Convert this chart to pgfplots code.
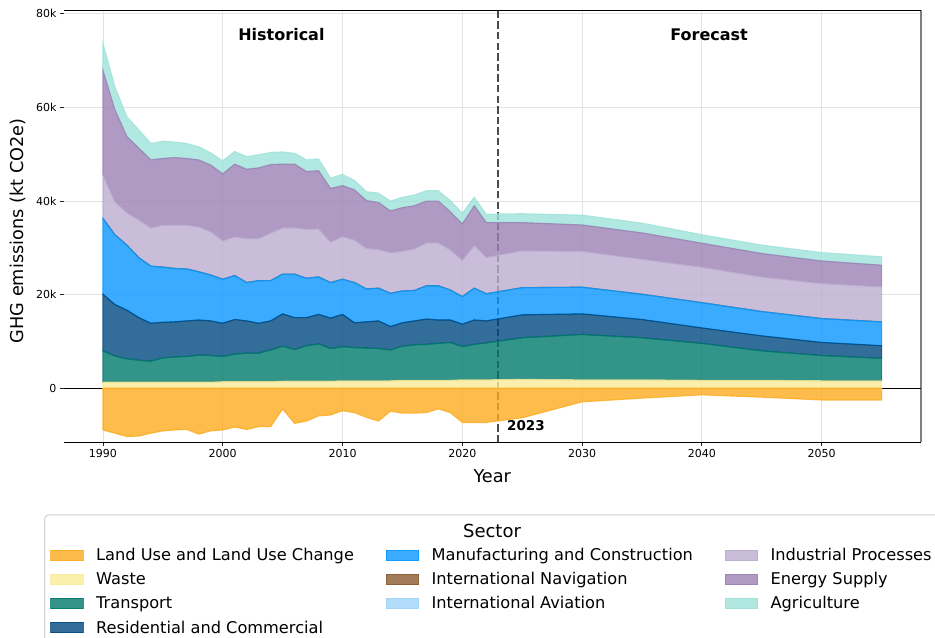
\documentclass[border=0pt]{standalone}
\usepackage{fontspec}
\setmainfont{DejaVu Sans}
\usepackage{pgfplots}
\pgfplotsset{compat=1.18}
\usepackage{pgfplotstable}

\definecolor{cLU}{RGB}{252,171,30}
\definecolor{cWaste}{RGB}{251,235,152}
\definecolor{cTr}{RGB}{0,121,109}
\definecolor{cRes}{RGB}{0,72,127}
\definecolor{cMan}{RGB}{9,150,254}
\definecolor{cNav}{RGB}{139,91,49}
\definecolor{cAv}{RGB}{160,212,251}
\definecolor{cInd}{RGB}{187,172,207}
\definecolor{cEn}{RGB}{155,129,181}
\definecolor{cAg}{RGB}{157,226,217}

% values in thousands of kt CO2e
\pgfplotstableread{
year lu waste transport resid manuf nav avia indus energy agri
1990 -8.9 1.3 6.7 12.1 16.2 0 0 9.3 22.3 5.8
1991 -9.6 1.3 5.6 11.0 14.9 0 0 7.1 19.6 4.9
1992 -10.3 1.3 5.0 10.4 13.9 0 0 6.9 16.3 4.2
1993 -10.2 1.3 4.7 9.1 12.8 0 0 8.1 15.3 3.9
1994 -9.6 1.3 4.5 8.1 12.2 0 0 8.2 14.5 3.5
1995 -9.1 1.3 5.2 7.6 11.8 0 0 9.0 14.2 3.7
1996 -8.9 1.3 5.4 7.5 11.4 0 0 9.3 14.4 3.3
1997 -8.8 1.3 5.5 7.6 11.1 0 0 9.4 14.2 3.2
1998 -9.8 1.3 5.8 7.5 10.3 0 0 9.6 14.3 2.8
1999 -9.1 1.3 5.7 7.4 9.8 0 0 9.3 14.2 2.6
2000 -8.9 1.4 5.4 7.1 9.4 0 0 8.2 14.3 2.8
2001 -8.3 1.4 5.9 7.4 9.4 0 0 8.3 15.5 2.7
2002 -8.8 1.4 6.1 6.9 8.2 0 0 9.4 14.8 2.7
2003 -8.2 1.4 6.1 6.4 9.1 0 0 9.0 15.1 2.8
2004 -8.2 1.4 6.8 6.2 8.6 0 0 10.2 14.6 2.6
2005 -4.4 1.5 7.5 6.9 8.5 0 0 9.9 13.6 2.6
2006 -7.5 1.5 6.8 6.8 9.3 0 0 9.9 13.6 2.3
2007 -7.0 1.5 7.6 6.0 8.4 0 0 10.5 12.3 2.5
2008 -5.9 1.5 8.0 6.3 8.0 0 0 10.3 12.4 2.5
2009 -5.7 1.5 7.0 6.5 7.6 0 0 8.7 11.4 2.2
2010 -4.8 1.6 7.3 6.9 7.5 0 0 9.1 10.9 2.4
2011 -5.2 1.6 7.1 5.3 8.6 0 0 9.1 10.7 2.0
2012 -6.2 1.6 7.0 5.6 7.0 0 0 8.7 10.2 1.9
2013 -7.0 1.6 6.9 5.9 7.0 0 0 8.3 10.0 2.0
2014 -4.9 1.6 6.6 5.0 7.1 0 0 8.7 8.9 2.1
2015 -5.3 1.7 7.3 5.0 6.8 0 0 8.5 9.3 2.2
2016 -5.3 1.7 7.6 5.1 6.5 0 0 8.9 9.2 2.3
2017 -5.2 1.7 7.7 5.4 7.1 0 0 9.2 8.9 2.2
2018 -4.4 1.7 7.9 5.0 7.3 0 0 9.2 8.9 2.2
2019 -5.2 1.7 8.1 4.8 6.4 0 0 8.6 8.1 2.4
2020 -7.3 1.8 7.1 4.8 5.9 0 0 7.8 7.7 2.3
2021 -7.3 1.8 7.6 5.2 6.8 0 0 9.2 8.4 1.8
2022 -7.3 1.8 7.9 4.7 5.8 0 0 7.8 7.4 1.8
2025 -6.3 1.9 8.9 4.9 5.8 0 0 7.9 6.0 1.9
2030 -2.9 1.8 9.7 4.4 5.7 0 0 7.7 5.6 2.1
2035 -2.1 1.8 9.0 3.9 5.4 0 0 7.5 5.6 2.1
2040 -1.4 1.7 7.9 3.3 5.4 0 0 7.6 5.1 1.8
2045 -1.9 1.7 6.3 3.2 5.2 0 0 7.4 5.0 1.8
2050 -2.5 1.6 5.4 2.8 5.1 0 0 7.5 4.8 1.8
2055 -2.5 1.6 4.8 2.7 5.1 0 0 7.5 4.6 1.8
}\data

\pgfplotsset{
  area/.style={fill=#1, draw=#1, fill opacity=0.8, draw opacity=0.8, line width=1.1bp, forget plot},
}

\begin{document}
\begin{tikzpicture}
\useasboundingbox (0bp,0bp) rectangle (935bp,638bp);
\clip (0bp,0bp) rectangle (935bp,638bp);
\filldraw[draw=black!18, line width=1bp, fill=white, rounded corners=4bp] (44.6bp,123bp) rectangle (939.4bp,-30bp);
\node[font=\fontsize{18bp}{21bp}\selectfont] at (492bp,107.3bp) {Sector};
\begin{axis}[
  at={(64bp,195.7bp)}, anchor=south west,
  scale only axis, width=856.5bp, height=432.3bp,
  xmin=1986.75, xmax=2058.25, ymin=-11.54, ymax=80.83,
  clip=false,
  stack plots=y,
  axis line style={draw=none},
  tick align=outside, tick pos=left,
  major tick length=4bp,
  every tick/.style={black!85, line width=0.8bp},
  xtick={1990,2000,2010,2020,2030,2040,2050},
  ytick={0,20,40,60,80},
  yticklabels={0,20k,40k,60k,80k},
  x tick label style={/pgf/number format/1000 sep={}},
  tick label style={font=\fontsize{11bp}{13bp}\selectfont},
  /pgf/number format/assume math mode=true,
  grid=major,
  grid style={black!11, line width=0.8bp},
  xlabel={Year}, ylabel={GHG emissions (kt CO2e)},
  label style={font=\fontsize{17.7bp}{21bp}\selectfont},
  xlabel style={at={(axis description cs:0.5,-0.078)}, anchor=center},
  ylabel style={at={(axis description cs:-0.0543,0.489)}, anchor=center},
  legend columns=3,
  legend cell align=left,
  legend image code/.code={\filldraw[#1, fill opacity=0.8, draw opacity=0.8, line width=0.8bp] (0bp,-5.3bp) rectangle (32.2bp,5.3bp);},
  legend style={
    at={(-0.016,-0.2329)}, anchor=north west,
    draw=none, fill=none, inner sep=0pt,
    row sep=0pt, column sep=12.7bp,
    /tikz/column 2/.style={column sep=32bp},
    /tikz/column 4/.style={column sep=32bp},
    font=\fontsize{16.2bp}{19bp}\selectfont,
    nodes={inner sep=0pt, text height=17.6bp, text depth=6.5bp},
  },
]
\addplot[area=cLU] table[x=year,y=lu]{\data} \closedcycle;
\addplot[draw=none, forget plot] table[x=year,y expr=-\thisrow{lu}]{\data};
\addplot[area=cWaste] table[x=year,y=waste]{\data} \closedcycle;
\addplot[area=cTr] table[x=year,y=transport]{\data} \closedcycle;
\addplot[area=cRes] table[x=year,y=resid]{\data} \closedcycle;
\addplot[area=cMan] table[x=year,y=manuf]{\data} \closedcycle;
\addplot[area=cNav] table[x=year,y=nav]{\data} \closedcycle;
\addplot[area=cAv] table[x=year,y=avia]{\data} \closedcycle;
\addplot[area=cInd] table[x=year,y=indus]{\data} \closedcycle;
\addplot[area=cEn] table[x=year,y=energy]{\data} \closedcycle;
\addplot[area=cAg] table[x=year,y=agri]{\data} \closedcycle;

\addlegendimage{fill=cLU,draw=cLU}\addlegendentry{Land Use and Land Use Change}
\addlegendimage{fill=cMan,draw=cMan}\addlegendentry{Manufacturing and Construction}
\addlegendimage{fill=cInd,draw=cInd}\addlegendentry{Industrial Processes}
\addlegendimage{fill=cWaste,draw=cWaste}\addlegendentry{Waste}
\addlegendimage{fill=cNav,draw=cNav}\addlegendentry{International Navigation}
\addlegendimage{fill=cEn,draw=cEn}\addlegendentry{Energy Supply}
\addlegendimage{fill=cTr,draw=cTr}\addlegendentry{Transport}
\addlegendimage{fill=cAv,draw=cAv}\addlegendentry{International Aviation}
\addlegendimage{fill=cAg,draw=cAg}\addlegendentry{Agriculture}
\addlegendimage{fill=cRes,draw=cRes}\addlegendentry{Residential and Commercial}

\draw[black, line width=1.2bp] (axis cs:1986.75,0) -- (axis cs:2058.25,0);
\draw[black, opacity=0.7, line width=2bp, dash pattern=on 7.4bp off 3.2bp] (axis cs:2023,-11.54) -- (axis cs:2023,80.83);
\draw[black, line width=1bp] (rel axis cs:0,1) -- (rel axis cs:1,1);
\draw[black, line width=1bp] (rel axis cs:0,0) -- (rel axis cs:1,0);
\draw[black!50, line width=2bp] (rel axis cs:1,0) -- (rel axis cs:1,1);
\node[font=\bfseries\fontsize{16bp}{19bp}\selectfont] at (axis cs:2004.9,75.5) {Historical};
\node[font=\bfseries\fontsize{16bp}{19bp}\selectfont] at (axis cs:2040.6,75.5) {Forecast};
\node[font=\bfseries\fontsize{13.5bp}{16bp}\selectfont, anchor=west, inner sep=0pt] at (axis cs:2023.73,-8.06) {2023};
\end{axis}
\end{tikzpicture}
\end{document}
